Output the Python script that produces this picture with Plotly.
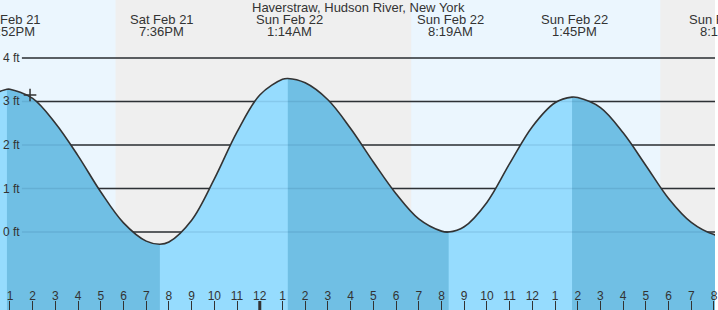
import plotly.graph_objects as go
import pandas as pd

# ---------------- data ----------------
times = [
    "2026-02-21 12:00", "2026-02-21 12:52", "2026-02-21 13:00", "2026-02-21 14:00",
    "2026-02-21 15:00", "2026-02-21 16:00", "2026-02-21 17:00", "2026-02-21 18:00",
    "2026-02-21 19:00", "2026-02-21 19:36", "2026-02-21 20:00", "2026-02-21 21:00",
    "2026-02-21 22:00", "2026-02-21 23:00", "2026-02-22 00:00", "2026-02-22 01:00",
    "2026-02-22 01:14", "2026-02-22 02:00", "2026-02-22 03:00", "2026-02-22 04:00",
    "2026-02-22 05:00", "2026-02-22 06:00", "2026-02-22 07:00", "2026-02-22 08:00",
    "2026-02-22 08:19", "2026-02-22 09:00", "2026-02-22 10:00", "2026-02-22 11:00",
    "2026-02-22 12:00", "2026-02-22 13:00", "2026-02-22 13:45", "2026-02-22 14:00",
    "2026-02-22 15:00", "2026-02-22 16:00", "2026-02-22 17:00", "2026-02-22 18:00",
    "2026-02-22 19:00", "2026-02-22 20:00", "2026-02-22 20:16", "2026-02-22 21:00",
]
heights = [
    3.12, 3.28, 3.28, 3.07,
    2.50, 1.75, 0.92, 0.21,
    -0.21, -0.28, -0.23, 0.27,
    1.22, 2.30, 3.15, 3.51,
    3.53, 3.43, 3.04, 2.38,
    1.61, 0.88, 0.30, 0.02,
    0.00, 0.12, 0.68, 1.57,
    2.42, 2.97, 3.10, 3.09,
    2.86, 2.28, 1.53, 0.77,
    0.22, -0.06, -0.08, 0.10,
]

extreme_times = ["2026-02-21 12:52", "2026-02-21 19:36", "2026-02-22 01:14",
                 "2026-02-22 08:19", "2026-02-22 13:45", "2026-02-22 20:16"]
extreme_kinds = ["H", "L", "H", "L", "H", "L"]
extreme_date_labels = ["Sat Feb 21", "Sat Feb 21", "Sun Feb 22",
                       "Sun Feb 22", "Sun Feb 22", "Sun Feb 22"]
extreme_time_labels = ["12:52PM", "7:36PM", "1:14AM", "8:19AM", "1:45PM", "8:16PM"]

night_starts = ["2026-02-21 17:39", "2026-02-22 17:38"]
night_ends = ["2026-02-22 06:40", "2026-02-22 23:00"]

now_time = "2026-02-21 13:53"
now_height = 3.15

y_tick_vals = [0, 1, 2, 3, 4]
y_tick_text = ["0 ft", "1 ft", "2 ft", "3 ft", "4 ft"]

x_tick_text = ["1", "2", "3", "4", "5", "6", "7", "8", "9", "10", "11", "12",
               "1", "2", "3", "4", "5", "6", "7", "8", "9", "10", "11", "12",
               "1", "2", "3", "4", "5", "6", "7", "8"]
midnight = "2026-02-22 00:00"

title_text = "Haverstraw, Hudson River, New York"

x_range = ["2026-02-21 12:33:40", "2026-02-22 20:02:40"]
y_range = [-1.793, 5.333]

# ---------------- styles ----------------
W, H = 718, 310
DAY = "#ebf6fe"
NIGHT = "#efefef"
RISE = "#96dcfe"
FALL = "#70bfe4"
INK = "#333333"
FONT = "Liberation Sans, Arial, sans-serif"

t = pd.to_datetime(times)
x_tick_vals = list(pd.date_range("2026-02-21 13:00", periods=len(x_tick_text), freq="h"))
xr0, xr1 = pd.to_datetime(x_range[0]), pd.to_datetime(x_range[1])


def paper_x(ts):
    return (pd.to_datetime(ts) - xr0) / (xr1 - xr0)


fig = go.Figure()

# full rising-colour fill
fig.add_trace(go.Scatter(x=[t[0], t[-1]], y=[-3, -3], mode="lines",
                         line=dict(width=0), hoverinfo="skip", showlegend=False))
fig.add_trace(go.Scatter(x=t, y=heights, mode="lines", line=dict(width=0, shape="spline"),
                         fill="tonexty", fillcolor=RISE, hoverinfo="skip", showlegend=False))

# falling segments (high -> low) darker
et = pd.to_datetime(extreme_times)
for i in range(len(et)):
    if extreme_kinds[i] != "H":
        continue
    start = et[i]
    end = et[i + 1] if i + 1 < len(et) else t[-1]
    sx = [tt for tt in t if start <= tt <= end]
    sy = [h for tt, h in zip(t, heights) if start <= tt <= end]
    fig.add_trace(go.Scatter(x=[sx[0], sx[-1]], y=[-3, -3], mode="lines",
                             line=dict(width=0), hoverinfo="skip", showlegend=False))
    fig.add_trace(go.Scatter(x=sx, y=sy, mode="lines", line=dict(width=0, shape="spline"),
                             fill="tonexty", fillcolor=FALL, hoverinfo="skip", showlegend=False))

# tide curve
fig.add_trace(go.Scatter(x=t, y=heights, mode="lines",
                         line=dict(color=INK, width=1.6, shape="spline"),
                         hoverinfo="skip", showlegend=False))

# current-time marker
fig.add_trace(go.Scatter(x=[now_time], y=[now_height], mode="markers",
                         marker=dict(symbol="cross-thin", size=9,
                                     line=dict(color=INK, width=1.5)),
                         hoverinfo="skip", showlegend=False))

shapes = []
shapes.append(dict(type="rect", xref="paper", yref="paper", x0=0, x1=1, y0=0, y1=1,
                   fillcolor=DAY, line=dict(width=0), layer="below"))
for s, e in zip(night_starts, night_ends):
    shapes.append(dict(type="rect", xref="x", yref="paper", x0=s, x1=e, y0=0, y1=1,
                       fillcolor=NIGHT, line=dict(width=0), layer="below"))
for v in y_tick_vals:
    shapes.append(dict(type="line", xref="paper", yref="y", x0=22 / W, x1=1, y0=v, y1=v,
                       line=dict(color=INK, width=1.3), layer="below"))
    shapes.append(dict(type="line", xref="paper", yref="y", x0=22 / W, x1=1, y0=v, y1=v,
                       line=dict(color="rgba(0,40,80,0.10)", width=1.3), layer="above"))
shapes.append(dict(type="line", xref="x", yref="paper", x0=midnight, x1=midnight,
                   y0=0, y1=9 / H, line=dict(color=INK, width=3), layer="above"))

annotations = [dict(text=title_text, xref="paper", yref="paper", x=0.5, y=1 - 7.5 / H,
                    xanchor="center", yanchor="middle", showarrow=False, xshift=1,
                    font=dict(size=13, color=INK, family=FONT))]
for tt, dl, tl in zip(extreme_times, extreme_date_labels, extreme_time_labels):
    px = paper_x(tt)
    annotations.append(dict(text=dl, xref="paper", yref="paper", x=px, y=1 - 20 / H,
                            xanchor="center", yanchor="middle", showarrow=False, xshift=2,
                            font=dict(size=13, color=INK, family=FONT)))
    annotations.append(dict(text=tl, xref="paper", yref="paper", x=px, y=1 - 31.5 / H,
                            xanchor="center", yanchor="middle", showarrow=False, xshift=2,
                            font=dict(size=13, color=INK, family=FONT)))
# y-axis labels (left, inside the plot)
for v, txt in zip(y_tick_vals, y_tick_text):
    annotations.append(dict(text=txt, xref="paper", yref="y", x=0, y=v,
                            xanchor="left", yanchor="middle", showarrow=False, xshift=1,
                            font=dict(size=12, color=INK, family=FONT)))

fig.update_layout(
    width=W, height=H, autosize=False,
    margin=dict(l=0, r=0, t=0, b=0, pad=0),
    paper_bgcolor="white", plot_bgcolor=DAY,
    showlegend=False,
    shapes=shapes, annotations=annotations,
    font=dict(family=FONT, color=INK, size=12),
    xaxis=dict(type="date", range=x_range, showgrid=False, zeroline=False, showline=False,
               tickmode="array", tickvals=x_tick_vals, ticktext=x_tick_text,
               ticks="inside", ticklen=9, tickwidth=1, tickcolor=INK,
               ticklabelposition="inside", ticklabeloverflow="allow",
               ticklabelstandoff=-2,
               tickfont=dict(size=12, color=INK, family=FONT)),
    yaxis=dict(range=y_range, showgrid=False, zeroline=False, showline=False,
               showticklabels=False, ticks=""),
)

fig.write_html("out.html")
